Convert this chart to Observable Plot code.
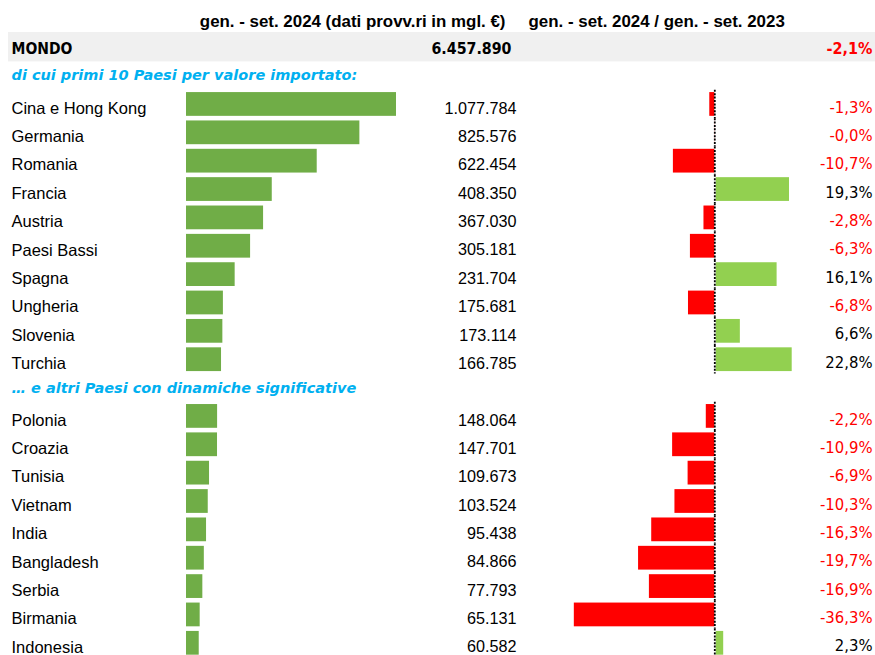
<!DOCTYPE html>
<html>
<head>
<meta charset="utf-8">
<script src="https://cdn.jsdelivr.net/npm/d3@7"></script>
<script src="https://cdn.jsdelivr.net/npm/@observablehq/plot@0.6"></script>
<style>
  body { margin: 0; background: #fff; }
  #chart { position: relative; width: 875px; height: 655px; overflow: hidden; background: #fff; }
  #chart svg { position: absolute; left: 0; top: 0; background: transparent; }
</style>
</head>
<body>
<div id="chart"></div>
<script>
// ---- data ----
const headerLeft = "gen. - set. 2024 (dati provv.ri in mgl. €)";
const headerRight = "gen. - set. 2024 / gen. - set. 2023";
const worldLabel = "MONDO";
const worldValue = 6457890;
const worldChange = -2.1;
const group1Title = "di cui primi 10 Paesi per valore importato:";
const group2Title = "… e altri Paesi con dinamiche significative";

const top10Countries = ["Cina e Hong Kong", "Germania", "Romania", "Francia", "Austria",
  "Paesi Bassi", "Spagna", "Ungheria", "Slovenia", "Turchia"];
const top10Values = [1077784, 825576, 622454, 408350, 367030, 305181, 231704, 175681, 173114, 166785];
const top10Changes = [-1.3, -0.04, -10.7, 19.3, -2.8, -6.3, 16.1, -6.8, 6.6, 22.8];

const otherCountries = ["Polonia", "Croazia", "Tunisia", "Vietnam", "India",
  "Bangladesh", "Serbia", "Birmania", "Indonesia"];
const otherValues = [148064, 147701, 109673, 103524, 95438, 84866, 77793, 65131, 60582];
const otherChanges = [-2.2, -10.9, -6.9, -10.3, -16.3, -19.7, -16.9, -36.3, 2.3];

// ---- table built from the arrays ----
const countries = [
  ...top10Countries.map((name, i) => ({key: name, name, value: top10Values[i], change: top10Changes[i]})),
  ...otherCountries.map((name, i) => ({key: name, name, value: otherValues[i], change: otherChanges[i]}))
];
const keys = ["__header", "__world", "__g1", ...top10Countries, "__g2", ...otherCountries];

const fmtInt = v => d3.format(",")(v).replace(/,/g, ".");
const fmtPct = v => v.toFixed(1).replace(".", ",") + "%";

const sansFont = "'Liberation Sans', Arial, sans-serif";
const tahomaFont = "'DejaVu Sans Condensed', 'DejaVu Sans', sans-serif";
const boldItalicFont = "'DejaVu Sans', sans-serif";

const yScale = {type: "band", domain: keys, range: [4.7, 4.7 + 23 * 28.36], padding: 0, round: false, axis: null};

// ---- left part: names, value bars, value labels ----
const p1 = Plot.plot({
  width: 875, height: 655, margin: 0,
  style: {background: "transparent"},
  x: {domain: [0, 1000000], range: [186, 396], clamp: true, axis: null},
  y: yScale,
  marks: [
    Plot.cell([worldLabel], {y: () => "__world", fill: "#f0f0f0", insetLeft: 8, insetTop: -1}),
    Plot.text([headerLeft], {y: () => "__header", text: d => d, frameAnchor: "right", dx: -370, dy: 1.7,
      textAnchor: "end", fontFamily: sansFont, fontWeight: "bold", fontSize: 16.9, fill: "#000"}),
    Plot.text([headerRight], {y: () => "__header", text: d => d, frameAnchor: "left", dx: 528, dy: 1.7,
      textAnchor: "start", fontFamily: sansFont, fontWeight: "bold", fontSize: 16.9, fill: "#000"}),
    Plot.text([worldLabel], {y: () => "__world", text: d => d, frameAnchor: "left", dx: 11, dy: 1.5,
      textAnchor: "start", fontFamily: tahomaFont, fontWeight: "bold", fontSize: 15.5, letterSpacing: -0.6, fill: "#000"}),
    Plot.text([worldValue], {y: () => "__world", text: d => fmtInt(d), frameAnchor: "right", dx: -364, dy: 1.5,
      textAnchor: "end", fontFamily: tahomaFont, fontWeight: "bold", fontSize: 15.8, fill: "#000"}),
    Plot.text([group1Title], {y: () => "__g1", text: d => d, frameAnchor: "left", dx: 11, dy: -1,
      textAnchor: "start", fontFamily: boldItalicFont, fontWeight: "bold", fontStyle: "italic", fontSize: 14.5, fill: "#00B0F0"}),
    Plot.text([group2Title], {y: () => "__g2", text: d => d, frameAnchor: "left", dx: 11, dy: 0,
      textAnchor: "start", fontFamily: boldItalicFont, fontWeight: "bold", fontStyle: "italic", fontSize: 14.5, fill: "#00B0F0"}),
    Plot.barX(countries, {x: "value", y: "key", fill: "#70AD47", insetTop: 2.3, insetBottom: 2.3}),
    Plot.text(countries, {y: "key", text: "name", frameAnchor: "left", dx: 11, dy: 4,
      textAnchor: "start", fontFamily: sansFont, fontSize: 16.5, fill: "#000"}),
    Plot.text(countries, {y: "key", text: d => fmtInt(d.value), frameAnchor: "right", dx: -359, dy: 4,
      textAnchor: "end", fontFamily: sansFont, fontSize: 16.2, fill: "#000"})
  ]
});

// ---- right part: change bars and labels ----
const p2 = Plot.plot({
  width: 875, height: 655, margin: 0,
  style: {background: "transparent"},
  x: {domain: [-40, 20], range: [559.5, 791.7], clamp: true, axis: null},
  y: yScale,
  marks: [
    Plot.barX(countries.filter(d => d.change < 0), {x: "change", y: "key", fill: "#FF0000", insetTop: 2.3, insetBottom: 2.3}),
    Plot.barX(countries.filter(d => d.change >= 0), {x: "change", y: "key", fill: "#92D050", insetTop: 2.3, insetBottom: 2.3, insetLeft: 1.4}),
    Plot.ruleX(countries, {x: () => 0, y1: "key", y2: "key", stroke: "#000", strokeWidth: 1.8, strokeDasharray: "2,1.4"}),
    Plot.text(countries, {y: "key", text: d => fmtPct(d.change), frameAnchor: "right", dx: -3, dy: 2.8,
      textAnchor: "end", fontFamily: tahomaFont, fontSize: 16.5, fill: d => d.change < 0 ? "#FF0000" : "#000"}),
    Plot.text([worldChange], {y: () => "__world", text: d => fmtPct(d), frameAnchor: "right", dx: -3, dy: 1.5,
      textAnchor: "end", fontFamily: tahomaFont, fontWeight: "bold", fontSize: 16, fill: "#FF0000"})
  ]
});

const chart = document.getElementById("chart");
chart.appendChild(p1);
chart.appendChild(p2);
</script>
</body>
</html>
